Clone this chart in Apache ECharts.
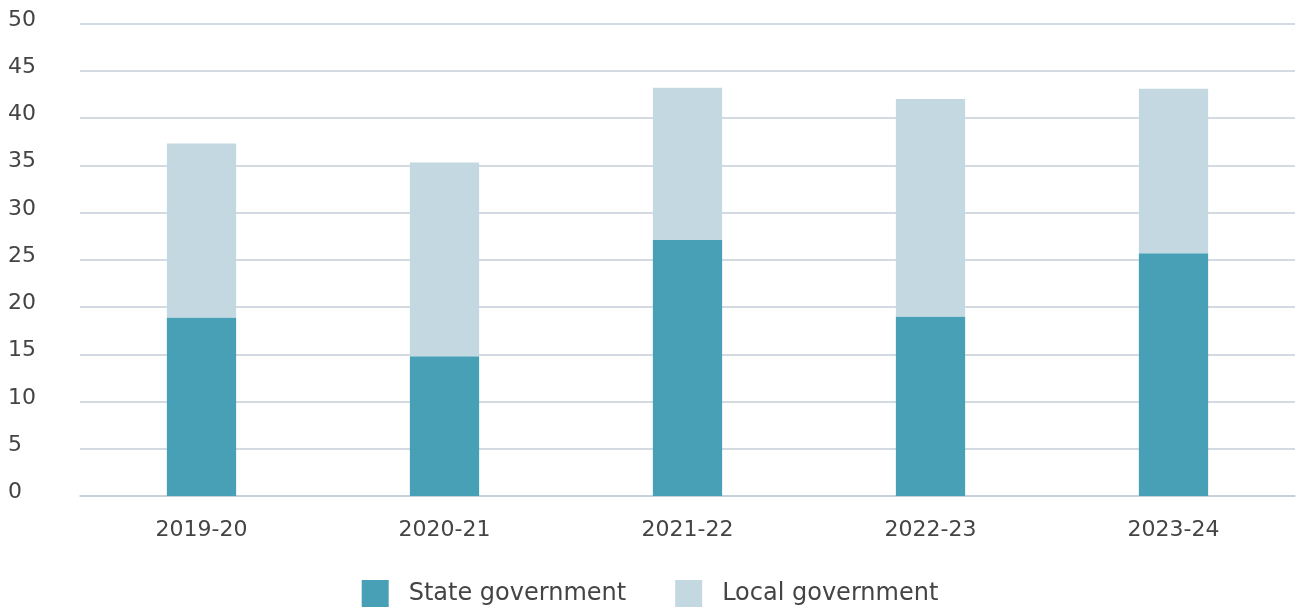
<!DOCTYPE html>
<html>
<head>
<meta charset="utf-8">
<script src="https://cdn.jsdelivr.net/npm/echarts@6/dist/echarts.min.js"></script>
<style>html,body{margin:0;padding:0;background:#fff}#chart{width:1300px;height:608px}</style>
</head>
<body>
<div id="chart"></div>
<script>
const categories = ['2019-20', '2020-21', '2021-22', '2022-23', '2023-24'];
const stateGov = [18.9, 14.8, 27.1, 19.0, 25.7];
const localGov = [18.4, 20.5, 16.1, 23.0, 17.4];
const seriesNames = ['State government', 'Local government'];

const FONT = 'DejaVu Sans';
const chart = echarts.init(document.getElementById('chart'));
chart.setOption({
  animation: false,
  textStyle: { fontFamily: FONT },
  grid: { left: 80, right: 5, top: 23.5, bottom: 112 },
  legend: {
    top: 575, left: 'center', padding: [5, 5, 5, 5],
    itemWidth: 27, itemHeight: 27, itemGap: 49,
    icon: 'rect',
    textStyle: { fontFamily: FONT, fontSize: 24, color: '#444', padding: [0, 0, 0, 15] },
    data: seriesNames
  },
  xAxis: {
    type: 'category', data: categories,
    axisLine: { show: true, lineStyle: { color: '#c5ced8', width: 1.5 } },
    axisTick: { show: false },
    axisLabel: { fontFamily: FONT, fontSize: 22, color: '#444', margin: 23 }
  },
  yAxis: {
    type: 'value', min: 0, max: 50, interval: 5,
    axisLine: { show: false }, axisTick: { show: false },
    splitLine: { lineStyle: { color: '#c5ced8', width: 1.5 } },
    axisLabel: { fontFamily: FONT, fontSize: 22, color: '#444', align: 'left', margin: 72, verticalAlign: 'bottom', lineHeight: 7 }
  },
  series: [
    { name: seriesNames[0], type: 'bar', stack: 't', data: stateGov, barWidth: '28.5%', itemStyle: { color: '#48a0b6' } },
    { name: seriesNames[1], type: 'bar', stack: 't', data: localGov, barWidth: '28.5%', itemStyle: { color: '#c4d8e1' } }
  ]
});
</script>
</body>
</html>
